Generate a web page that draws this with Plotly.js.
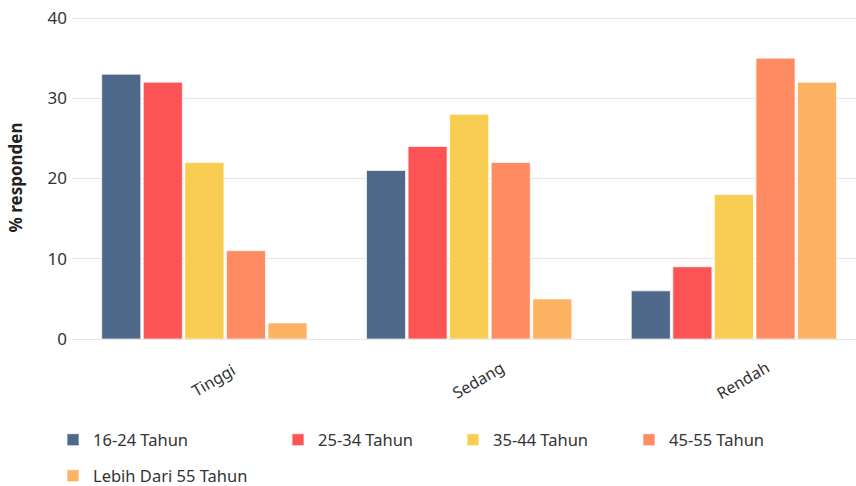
<!DOCTYPE html>
<html>
<head>
<meta charset="utf-8">
<script src="https://cdn.plot.ly/plotly-3.0.1.min.js"></script>
<style>html,body{margin:0;padding:0;background:#fff;}#chart{width:856px;height:486px;}</style>
</head>
<body>
<div id="chart"></div>
<script>
var categories = ["Tinggi", "Sedang", "Rendah"];
var seriesNames = ["16-24 Tahun", "25-34 Tahun", "35-44 Tahun", "45-55 Tahun", "Lebih Dari 55 Tahun"];
var s1624 = [33, 21, 6];
var s2534 = [32, 24, 9];
var s3544 = [22, 28, 18];
var s4555 = [11, 22, 35];
var s55plus = [2, 5, 32];
var yTicks = [0, 10, 20, 30, 40];

var values = [s1624, s2534, s3544, s4555, s55plus];
var colors = ["#4f698b", "#fc5454", "#f9cd51", "#fe8b62", "#fdb462"];
var legendPos = [[53, 440], [278, 440], [453, 440], [629, 440], [53, 476]];
var font = "'Noto Sans', 'Open Sans', sans-serif";

var traces = values.map(function (v, i) {
  return {
    type: "bar",
    name: seriesNames[i],
    x: categories,
    y: v,
    marker: { color: colors[i], line: { color: "rgba(255,255,255,0.7)", width: 1 } },
    legend: i === 0 ? "legend" : "legend" + (i + 1),
    hoverinfo: "x+y+name"
  };
});

var layout = {
  width: 856,
  height: 486,
  margin: { l: 72, r: 0, t: 16, b: 147 },
  paper_bgcolor: "#fff",
  plot_bgcolor: "#fff",
  font: { family: font, color: "#333", size: 15 },
  barmode: "group",
  bargap: 0.215,
  bargroupgap: 0.06,
  xaxis: {
    type: "category",
    range: [-0.5, 2.461],
    showticklabels: false,
    showgrid: false,
    zeroline: false,
    showline: false,
    ticks: ""
  },
  yaxis: {
    range: [0, 40.25],
    tickvals: yTicks,
    ticktext: yTicks.map(String),
    tickfont: { size: 17, color: "#333" },
    gridcolor: "#e6e6e6",
    gridwidth: 1,
    zeroline: true,
    zerolinecolor: "#e6e6e6",
    zerolinewidth: 1,
    showline: false,
    ticks: "",
    ticklabelstandoff: 4,
    title: { text: "<b>% responden</b>", font: { size: 17, color: "#222" }, standoff: 20 },
    automargin: false
  },
  showlegend: true,
  annotations: categories.map(function (c) {
    return {
      x: c, xref: "x", y: 0, yref: "paper", yshift: -41,
      xshift: 9,
      text: c, showarrow: false, textangle: -30,
      font: { size: 16, color: "#333", family: font },
      xanchor: "center", yanchor: "middle"
    };
  })
};

legendPos.forEach(function (p, i) {
  var key = i === 0 ? "legend" : "legend" + (i + 1);
  layout[key] = {
    xref: "container", yref: "container",
    x: p[0] / 856, y: 1 - p[1] / 486,
    xanchor: "left", yanchor: "middle",
    orientation: "h",
    font: { size: 16.5, color: "#333", family: font },
    bgcolor: "rgba(0,0,0,0)"
  };
});

Plotly.newPlot("chart", traces, layout, { displayModeBar: false, responsive: false });
</script>
</body>
</html>
